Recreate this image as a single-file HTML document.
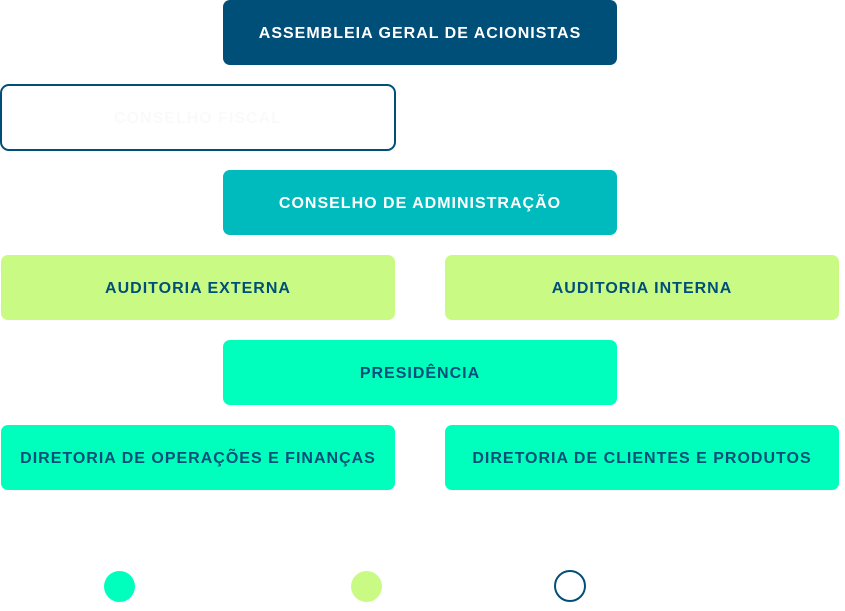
<!DOCTYPE html>
<html><head><meta charset="utf-8"><style>
html,body{margin:0;padding:0;background:#fff;width:845px;height:611px;overflow:hidden;position:relative;font-family:"Liberation Sans",sans-serif;}
.b{position:absolute;box-sizing:border-box;border-radius:7px;display:flex;align-items:center;justify-content:center;font-weight:bold;font-size:16px;letter-spacing:1px;padding-top:2px;}
.c{position:absolute;width:31px;height:31px;border-radius:50%;box-sizing:border-box;}
</style></head><body>
<div class="b" style="left:223px;top:0;width:394px;height:65px;background:#004f79;color:#fff;">ASSEMBLEIA GERAL DE ACIONISTAS</div>
<div class="b" style="left:0;top:84px;width:396px;height:67px;border:2px solid #004f79;color:#fafafa;border-radius:9px;">CONSELHO FISCAL</div>
<div class="b" style="left:223px;top:170px;width:394px;height:65px;background:#00bbbe;color:#fff;">CONSELHO DE ADMINISTRAÇÃO</div>
<div class="b" style="left:1px;top:255px;width:394px;height:65px;background:#c9fb84;color:#004f79;">AUDITORIA EXTERNA</div>
<div class="b" style="left:445px;top:255px;width:394px;height:65px;background:#c9fb84;color:#004f79;">AUDITORIA INTERNA</div>
<div class="b" style="left:223px;top:340px;width:394px;height:65px;background:#00ffbd;color:#004f79;">PRESIDÊNCIA</div>
<div class="b" style="left:1px;top:425px;width:394px;height:65px;background:#00ffbd;color:#004f79;">DIRETORIA DE OPERAÇÕES E FINANÇAS</div>
<div class="b" style="left:445px;top:425px;width:394px;height:65px;background:#00ffbd;color:#004f79;">DIRETORIA DE CLIENTES E PRODUTOS</div>
<div class="c" style="left:104px;top:571px;background:#00ffbd;"></div>
<div class="c" style="left:351px;top:571px;background:#c9fb84;"></div>
<div class="c" style="left:554px;top:570px;width:32px;height:32px;border:2px solid #004f79;"></div>
</body></html>
